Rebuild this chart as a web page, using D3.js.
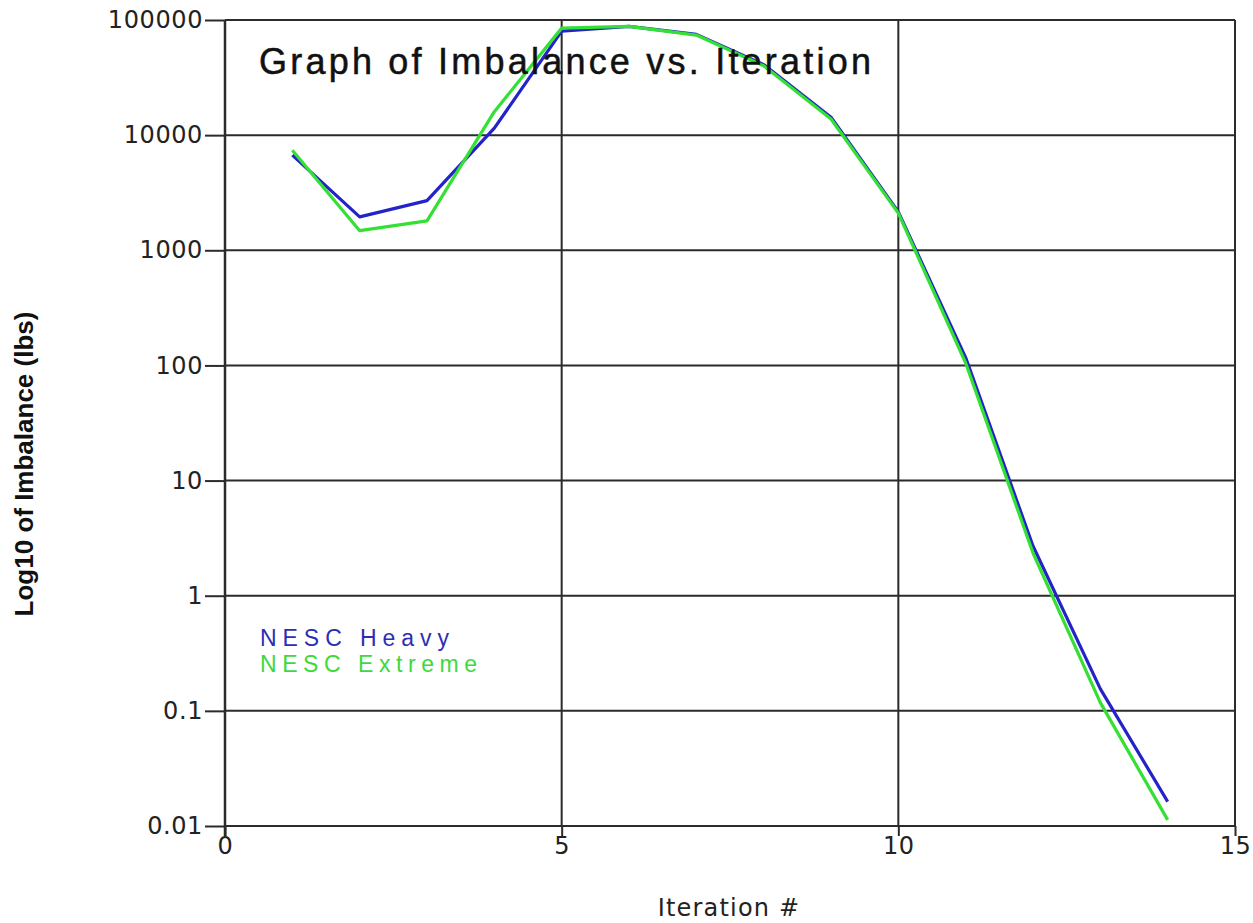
<!DOCTYPE html>
<html>
<head>
<meta charset="utf-8">
<script src="https://cdn.jsdelivr.net/npm/d3@7"></script>
<style>
  html, body { margin: 0; padding: 0; background: #fff; }
  svg { display: block; }
</style>
</head>
<body>
<svg id="chart" width="1253" height="923"></svg>
<script>
// Iteration numbers and the imbalance (lbs) reached at each one
const iterations = [1, 2, 3, 4, 5, 6, 7, 8, 9, 10, 11, 12, 13, 14];
const heavy   = [6700, 1950, 2700, 11500, 80000, 88000, 75000, 41000, 14300, 2150, 117, 2.7, 0.155, 0.0163];
const extreme = [7400, 1480, 1800, 16000, 85000, 88000, 74000, 40000, 13800, 2100, 105, 2.35, 0.118, 0.0113];

const seriesNames = ["NESC Heavy", "NESC Extreme"];
const xTicks = [0, 5, 10, 15];
const yTicks = [100000, 10000, 1000, 100, 10, 1, 0.1, 0.01];
const yTickLabels = ["100000", "10000", "1000", "100", "10", "1", "0.1", "0.01"];

const svg = d3.select("#chart");
const plotLeft = 225, plotRight = 1235, plotTop = 20, plotBottom = 826;

const x = d3.scaleLinear().domain([0, 15]).range([plotLeft, plotRight]);
const y = d3.scaleLog().domain([0.01, 100000]).range([plotBottom, plotTop]);

const gridColor = "#2b2b2b";
const tickFont = "'DejaVu Sans', Verdana, sans-serif";

// horizontal grid (one per decade)
svg.append("g").selectAll("line").data(yTicks).join("line")
  .attr("x1", plotLeft).attr("x2", plotRight)
  .attr("y1", d => y(d)).attr("y2", d => y(d))
  .attr("stroke", gridColor).attr("stroke-width", 2);

// vertical grid
svg.append("g").selectAll("line").data(xTicks.slice(1)).join("line")
  .attr("x1", d => x(d)).attr("x2", d => x(d))
  .attr("y1", plotTop).attr("y2", plotBottom)
  .attr("stroke", gridColor).attr("stroke-width", 2);

// y axis
const yAxis = d3.axisLeft(y)
  .tickValues(yTicks)
  .tickFormat((d, i) => yTickLabels[i])
  .tickSize(20)
  .tickPadding(2);
const gy = svg.append("g").attr("transform", `translate(${plotLeft},0)`).call(yAxis);
gy.select(".domain").remove();
gy.selectAll(".tick line").attr("stroke", gridColor).attr("stroke-width", 2);
gy.selectAll(".tick text")
  .attr("font-family", tickFont).attr("font-size", 24)
  .attr("letter-spacing", 0.6)
  .attr("fill", "#222");
svg.append("line")
  .attr("x1", plotLeft).attr("x2", plotLeft)
  .attr("y1", plotTop).attr("y2", plotBottom + 10)
  .attr("stroke", gridColor).attr("stroke-width", 2.5);

// x axis
const xAxis = d3.axisBottom(x)
  .tickValues(xTicks)
  .tickFormat(d3.format("d"))
  .tickSize(10)
  .tickPadding(1);
const gx = svg.append("g").attr("transform", `translate(0,${plotBottom})`).call(xAxis);
gx.select(".domain").attr("stroke", gridColor).attr("stroke-width", 2).attr("d", `M${plotLeft},0H${plotRight}`);
gx.selectAll(".tick line").attr("stroke", gridColor).attr("stroke-width", 2);
gx.selectAll(".tick text")
  .attr("font-family", tickFont).attr("font-size", 24)
  .attr("letter-spacing", 0.6)
  .attr("fill", "#222");

// data lines
const line = d3.line()
  .x((d, i) => x(iterations[i]))
  .y(d => y(d));

const colors = ["#2323c8", "#33e033"];
[heavy, extreme].forEach((vals, k) => {
  svg.append("path")
    .datum(vals)
    .attr("d", line)
    .attr("fill", "none")
    .attr("stroke", colors[k])
    .attr("stroke-width", 3.2)
    .attr("stroke-linejoin", "round");
});

// title
svg.append("text")
  .attr("x", 259).attr("y", 74)
  .attr("font-family", "'Liberation Sans', Arial, sans-serif")
  .attr("font-size", 36)
  .attr("textLength", 612).attr("lengthAdjust", "spacing")
  .attr("fill", "#111")
  .attr("stroke", "#111").attr("stroke-width", 0.5)
  .text("Graph of Imbalance vs. Iteration");

// legend
const legendColors = ["#2e2eb4", "#3dd93d"];
const legendWidths = [189, 217];
seriesNames.forEach((name, k) => {
  svg.append("text")
    .attr("x", 260).attr("y", 646 + k * 26)
    .attr("font-family", "'Liberation Sans', Arial, sans-serif")
    .attr("font-size", 23)
    .attr("textLength", legendWidths[k]).attr("lengthAdjust", "spacing")
    .attr("fill", legendColors[k])
    .text(name);
});

// axis titles
svg.append("text")
  .attr("transform", `translate(33,464) rotate(-90)`)
  .attr("text-anchor", "middle")
  .attr("font-family", "'Liberation Sans', Arial, sans-serif")
  .attr("font-size", 26).attr("font-weight", "bold")
  .attr("fill", "#111")
  .text("Log10 of Imbalance (lbs)");

svg.append("text")
  .attr("x", 729).attr("y", 916)
  .attr("text-anchor", "middle")
  .attr("font-family", tickFont)
  .attr("font-size", 24)
  .attr("letter-spacing", 1.2)
  .attr("fill", "#222")
  .text("Iteration #");
</script>
</body>
</html>
